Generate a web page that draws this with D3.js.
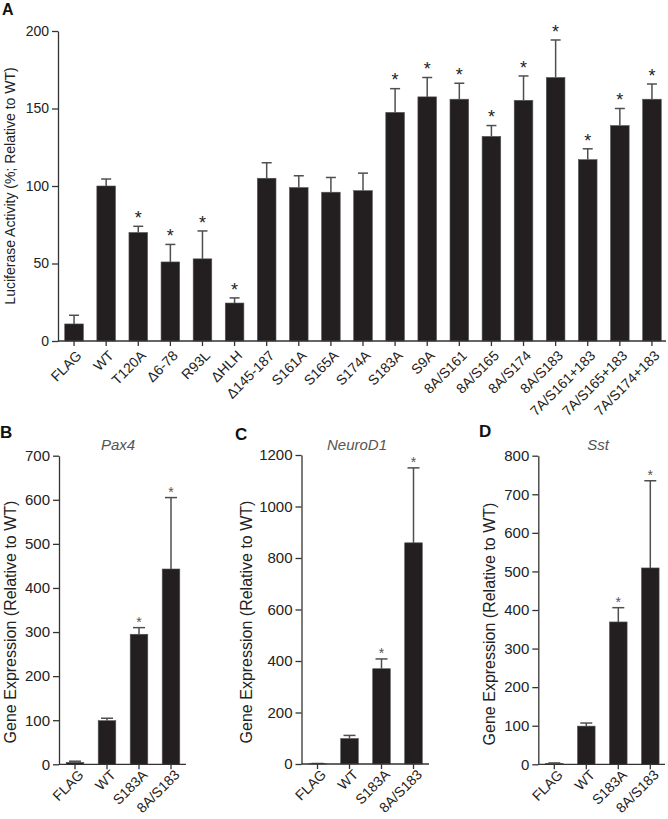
<!DOCTYPE html>
<html>
<head>
<meta charset="utf-8">
<script src="https://cdn.jsdelivr.net/npm/d3@7/dist/d3.min.js"></script>
<style>
  html, body { margin: 0; padding: 0; background: #fff; }
  svg { display: block; font-family: "Liberation Sans", Arial, Helvetica, sans-serif; }
</style>
</head>
<body>
<svg id="chart" width="668" height="819"></svg>
<script>
// ---------- Panel A data ----------
const catsA = ["FLAG", "WT", "T120A", "Δ6-78", "R93L", "ΔHLH", "Δ145-187", "S161A", "S165A", "S174A",
  "S183A", "S9A", "8A/S161", "8A/S165", "8A/S174", "8A/S183", "7A/S161+183", "7A/S165+183", "7A/S174+183"];
const valsA = [11, 100, 70, 51, 53, 24.5, 105, 99, 96, 97, 147.5, 157.5, 156, 132, 155.3, 170, 117, 139, 156];
const errA  = [5.6, 4.5, 4, 11.3, 18, 3.3, 10, 7.6, 9.5, 11.3, 15.3, 12.5, 10.3, 7, 15.7, 24.2, 7, 11, 9.8];
const sigA  = [false, false, true, true, true, true, false, false, false, false,
  true, true, true, true, true, true, true, true, true];
const ticksA = [0, 50, 100, 150, 200];

// ---------- Panels B-D data ----------
const catsGene = ["FLAG", "WT", "S183A", "8A/S183"];
const sigGene = [false, false, true, true];
const valsPax4 = [4.5, 99, 295, 443];
const errPax4  = [2.5, 5.5, 15, 162];
const ticksPax4 = [0, 100, 200, 300, 400, 500, 600, 700];
const valsNeuroD1 = [1, 99, 370, 859];
const errNeuroD1  = [1, 12, 38, 291];
const ticksNeuroD1 = [0, 200, 400, 600, 800, 1000, 1200];
const valsSst = [2.5, 99, 369, 509];
const errSst  = [1, 8, 37, 226];
const ticksSst = [0, 100, 200, 300, 400, 500, 600, 700, 800];

const svg = d3.select("#chart");
const BAR = "#231f20", ERR = "#4f4f4f", AXIS = "#333";
const FONT = "Liberation Sans, Arial, sans-serif";

function panel(o) {
  const g = svg.append("g");
  const x = d3.scaleBand().domain(o.cats).range(o.xr).paddingInner(o.pad).paddingOuter(o.pad / 2);
  const y = d3.scaleLinear().domain([0, d3.max(o.ticks)]).range(o.yr);

  // bars
  g.selectAll("rect.bar").data(o.cats).join("rect")
    .attr("class", "bar")
    .attr("x", d => x(d))
    .attr("width", x.bandwidth())
    .attr("y", (d, i) => y(o.vals[i]))
    .attr("height", (d, i) => y(0) - y(o.vals[i]))
    .attr("fill", BAR)
    .attr("stroke", "#555").attr("stroke-width", 0.6);

  // error bars (upper)
  const cx = d => x(d) + x.bandwidth() / 2;
  g.selectAll("line.err").data(o.cats).join("line")
    .attr("class", "err")
    .attr("x1", cx).attr("x2", cx)
    .attr("y1", (d, i) => y(o.vals[i]))
    .attr("y2", (d, i) => y(o.vals[i] + o.errs[i]))
    .attr("stroke", ERR).attr("stroke-width", 1.5);
  g.selectAll("line.cap").data(o.cats).join("line")
    .attr("class", "cap")
    .attr("x1", d => cx(d) - o.cap / 2).attr("x2", d => cx(d) + o.cap / 2)
    .attr("y1", (d, i) => y(o.vals[i] + o.errs[i]))
    .attr("y2", (d, i) => y(o.vals[i] + o.errs[i]))
    .attr("stroke", ERR).attr("stroke-width", 1.5);

  // significance stars
  g.selectAll("text.star").data(o.cats.filter((d, i) => o.sig[i])).join("text")
    .attr("class", "star")
    .attr("x", cx)
    .attr("y", d => { const i = o.cats.indexOf(d); return y(o.vals[i] + o.errs[i]) - o.starGap; })
    .attr("text-anchor", "middle")
    .attr("font-size", o.starSize)
    .attr("fill", o.starColor)
    .text("*");

  // y axis
  const ya = g.append("g").attr("transform", `translate(${o.xr[0]},0)`)
    .call(d3.axisLeft(y).tickValues(o.ticks).tickFormat(d3.format("d"))
      .tickSize(6).tickPadding(3).tickSizeOuter(0));
  ya.attr("font-family", FONT);
  ya.select(".domain").attr("stroke", AXIS).attr("stroke-width", 1.3);
  ya.selectAll(".tick line").attr("stroke", AXIS).attr("stroke-width", 1.3);
  ya.selectAll(".tick text").attr("font-size", o.tickSize).attr("fill", "#222");

  // x axis
  const xa = g.append("g").attr("transform", `translate(0,${o.yr[0]})`)
    .call(d3.axisBottom(x).tickSize(5).tickSizeOuter(0));
  xa.attr("font-family", FONT);
  xa.select(".domain").attr("stroke", AXIS).attr("stroke-width", 1.3)
    .attr("d", `M${o.xr[0]},0H${o.axisEnd}`);
  xa.selectAll(".tick line").attr("stroke", AXIS).attr("stroke-width", 1.3);
  xa.selectAll(".tick text")
    .attr("font-size", o.xSize).attr("fill", "#222")
    .attr("text-anchor", "end")
    .attr("x", 0).attr("y", 0).attr("dy", "0.35em")
    .attr("transform", `translate(${o.lx},${o.ly}) rotate(-45)`);

  // y label
  g.append("text")
    .attr("transform", `translate(${o.ylab[0]},${o.ylab[1]}) rotate(-90)`)
    .attr("text-anchor", "middle").attr("dy", "0.35em")
    .attr("font-size", o.ylabSize).attr("fill", "#222")
    .text(o.ylabel);

  // title
  if (o.title) {
    g.append("text").attr("x", o.title[1]).attr("y", o.title[2])
      .attr("text-anchor", "middle").attr("font-style", "italic")
      .attr("font-size", 15).attr("fill", "#555").text(o.title[0]);
  }
  // panel letter
  g.append("text").attr("x", o.letter[1]).attr("y", o.letter[2])
    .attr("font-weight", "bold").attr("font-size", o.letterSize).attr("fill", "#111").text(o.letter[0]);
}

panel({
  cats: catsA, vals: valsA, errs: errA, sig: sigA, ticks: ticksA,
  xr: [58, 668], axisEnd: 666, yr: [341, 31], pad: 0.42, cap: 10,
  starGap: 2.3, starSize: 18, starColor: "#222", tickSize: 14, xSize: 14, lx: 5, ly: 12,
  ylab: [10, 186], ylabSize: 14, ylabel: "Luciferase Activity (%; Relative to WT)",
  letter: ["A", 2, 15], letterSize: 16
});
panel({
  cats: catsGene, vals: valsPax4, errs: errPax4, sig: sigGene, ticks: ticksPax4,
  xr: [59, 187], axisEnd: 186, yr: [764.3, 455.7], pad: 0.45, cap: 12,
  starGap: 0.5, starSize: 14, starColor: "#555", tickSize: 15, xSize: 14, lx: 6, ly: 8,
  ylab: [10, 622], ylabSize: 16, ylabel: "Gene Expression (Relative to WT)",
  title: ["Pax4", 118, 450], letter: ["B", 0, 438], letterSize: 17
});
panel({
  cats: catsGene, vals: valsNeuroD1, errs: errNeuroD1, sig: sigGene, ticks: ticksNeuroD1,
  xr: [301.5, 429.5], axisEnd: 429, yr: [764, 455], pad: 0.45, cap: 12,
  starGap: 0.5, starSize: 14, starColor: "#555", tickSize: 15, xSize: 14, lx: 6, ly: 8,
  ylab: [246, 622], ylabSize: 16, ylabel: "Gene Expression (Relative to WT)",
  title: ["NeuroD1", 357, 450], letter: ["C", 235, 440], letterSize: 17
});
panel({
  cats: catsGene, vals: valsSst, errs: errSst, sig: sigGene, ticks: ticksSst,
  xr: [538.3, 666.3], axisEnd: 665, yr: [764.3, 455.7], pad: 0.45, cap: 12,
  starGap: 0.5, starSize: 14, starColor: "#555", tickSize: 15, xSize: 14, lx: 6, ly: 8,
  ylab: [489, 624], ylabSize: 16, ylabel: "Gene Expression (Relative to WT)",
  title: ["Sst", 598, 450], letter: ["D", 479, 437], letterSize: 17
});
</script>
</body>
</html>
